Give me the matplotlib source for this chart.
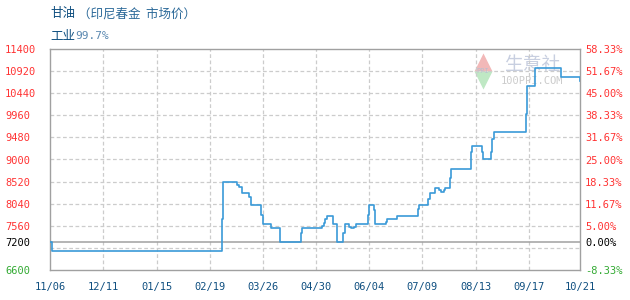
import numpy as np
import pandas as pd
import matplotlib
matplotlib.use('Agg')
from matplotlib import pyplot as plt

# price change dates and the price from that day on (yuan/ton)
change_dates = ['2017-11-06', '2017-11-07', '2018-02-27', '2018-02-28', '2018-03-09',
                '2018-03-10', '2018-03-12', '2018-03-17', '2018-03-18', '2018-03-25',
                '2018-03-26', '2018-03-31', '2018-04-06', '2018-04-20', '2018-04-21',
                '2018-05-04', '2018-05-05', '2018-05-06', '2018-05-07', '2018-05-11',
                '2018-05-14', '2018-05-18', '2018-05-19', '2018-05-22', '2018-05-23',
                '2018-05-25', '2018-05-26', '2018-06-03', '2018-06-04', '2018-06-07',
                '2018-06-08', '2018-06-15', '2018-06-16', '2018-06-22', '2018-07-06',
                '2018-07-07', '2018-07-13', '2018-07-14', '2018-07-17', '2018-07-20',
                '2018-07-21', '2018-07-23', '2018-07-24', '2018-07-27', '2018-07-28',
                '2018-08-10', '2018-08-11', '2018-08-17', '2018-08-18', '2018-08-23',
                '2018-08-24', '2018-08-25', '2018-09-15', '2018-09-16', '2018-09-21',
                '2018-10-08', '2018-10-21']
prices = [7200, 7000, 7700, 8500, 8440,
          8400, 8280, 8190, 8000, 7800,
          7600, 7500, 7200, 7400, 7500,
          7550, 7620, 7700, 7780, 7600,
          7200, 7400, 7600, 7540, 7500,
          7540, 7600, 7800, 8000, 7900,
          7600, 7640, 7700, 7780, 7930,
          8000, 8130, 8280, 8390, 8340,
          8290, 8340, 8390, 8600, 8800,
          9160, 9290, 9160, 9000, 9160,
          9450, 9600, 10000, 10600, 11000,
          10800, 10700]

base_price = 7200
left_ticks = [6600, 7200, 7560, 8040, 8520, 9000, 9480, 9960, 10440, 10920, 11400]
tick_dates = ['2017-11-06', '2017-12-11', '2018-01-15', '2018-02-19', '2018-03-26',
              '2018-04-30', '2018-06-04', '2018-07-09', '2018-08-13', '2018-09-17',
              '2018-10-21']

dates = pd.to_datetime(change_dates)
tdates = pd.to_datetime(tick_dates)

fig = plt.figure(figsize=(6.3, 3.0), dpi=100)
ax = fig.add_axes([50.3 / 630, 1 - 269.7 / 300, 530 / 630, 220.4 / 300])

frame_c = '#a0a0a0'
grid_c = '#cccccc'
for s in ax.spines.values():
    s.set_color(frame_c)
    s.set_linewidth(1.0)

ax.set_xlim(tdates[0], tdates[-1])
ax.set_ylim(6600, 11400)

# grid
for v in range(7080, 11400, 480):
    ax.axhline(v, color=grid_c, lw=0.9, ls=(0, (3, 2)), zorder=1)
for d in tdates[1:-1]:
    ax.axvline(d, color=grid_c, lw=0.9, ls=(0, (3, 2)), zorder=1)
ax.axhline(base_price, color=frame_c, lw=1.1, zorder=2)

ax.plot(dates, prices, drawstyle='steps-post', color='#3a9ad8', lw=1.2, zorder=3)

mono = 'DejaVu Sans Mono'
red = '#ff3333'
green = '#33aa33'

def tick_color(v):
    if v < base_price:
        return green
    if v == base_price:
        return 'black'
    return red

ax.set_yticks(left_ticks)
ax.set_yticklabels([str(v) for v in left_ticks], family=mono, fontsize=7.5)
ax.tick_params(axis='y', length=0, pad=32.5)
for lab, v in zip(ax.get_yticklabels(), left_ticks):
    lab.set_ha('left')
    lab.set_color(tick_color(v))

ax2 = ax.twinx()
ax2.set_ylim(6600, 11400)
ax2.set_yticks(left_ticks)
pct = ['%.2f%%' % ((v / base_price - 1) * 100) for v in left_ticks]
ax2.set_yticklabels(pct, family=mono, fontsize=7.5)
ax2.tick_params(axis='y', length=0, pad=3.5)
for lab, v in zip(ax2.get_yticklabels(), left_ticks):
    lab.set_color(tick_color(v))
for s in ax2.spines.values():
    s.set_visible(False)

ax.set_xticks(tdates)
ax.set_xticklabels([d.strftime('%m/%d') for d in tdates], family=mono, fontsize=7.5,
                   color='#0f4f80')
ax.tick_params(axis='x', length=0, pad=9)

# watermark
ax.plot([0.8155], [0.942], marker='^', ms=13, color='#f2b8b8', mec='none',
        transform=ax.transAxes, zorder=0, clip_on=False)
ax.plot([0.8155], [0.862], marker='v', ms=13, color='#bfe8c4', mec='none',
        transform=ax.transAxes, zorder=0, clip_on=False)
ax.text(0.8155, 0.903, 'PPI', transform=ax.transAxes, ha='center', va='center',
        family=mono, fontsize=5, color='#b8c0d0', zorder=0)
ax.text(0.909, 0.929, '生意社', transform=ax.transAxes, ha='center', va='center',
        family=['Noto Sans CJK SC'], fontsize=13.5, color='#c8cfe0', zorder=0)
ax.text(0.909, 0.858, '100PPI.COM', transform=ax.transAxes, ha='center', va='center',
        family=mono, fontsize=7.5, color='#cccccc', zorder=0)

# title
cjk = ['Noto Sans CJK SC', 'DejaVu Sans']
fig.text(50 / 630, 1 - 14 / 300, '甘油', family=cjk, fontsize=9, color='#0f4f80', va='center')
fig.text(78 / 630, 1 - 14 / 300, '（印尼春金  市场价）', family=cjk, fontsize=9,
         color='#2a6898', va='center')
fig.text(50 / 630, 1 - 36 / 300, '工业', family=cjk, fontsize=9, color='#0f4f80', va='center')
fig.text(75 / 630, 1 - 36 / 300, '99.7%', family=mono, fontsize=8, color='#5a88b0', va='center')

fig.savefig('out.png', dpi=100)
